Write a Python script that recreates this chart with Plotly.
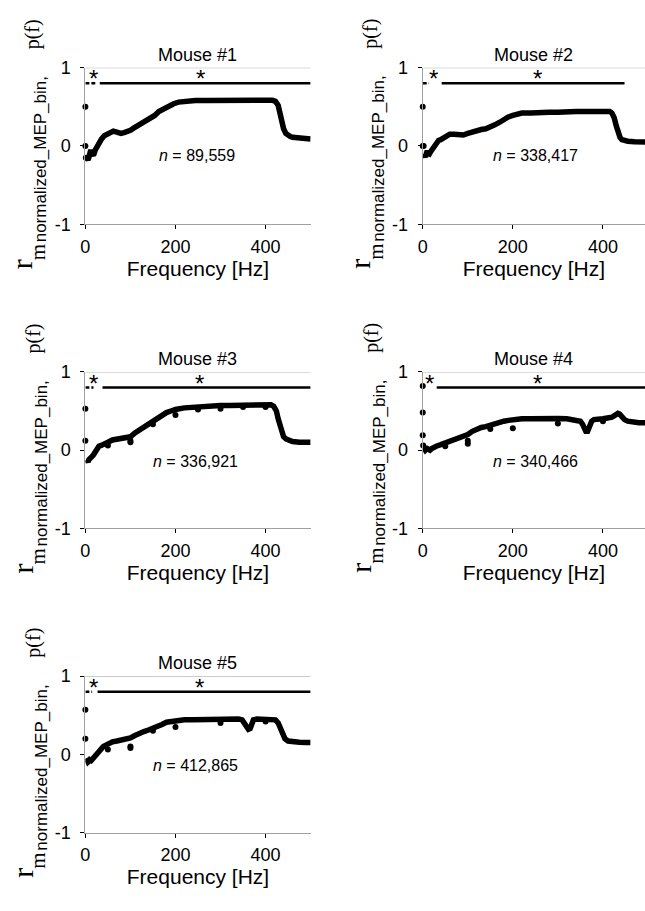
import plotly.graph_objects as go

W, H = 645, 911

# ---- spectral correlation curves (frequency in Hz, correlation r) ----
m1_freq = [2, 4, 6, 8, 10, 12, 15, 18, 22, 26, 31, 36, 42, 50, 56, 62, 68, 74, 79, 86, 93, 100, 108, 117, 126, 136, 145, 154, 163, 174, 185, 196, 207, 220, 244, 270, 300, 330, 360, 390, 415, 422, 428, 432, 436, 440, 445, 450, 455, 460, 470, 480, 490, 500]
m1_r = [-0.14, -0.17, -0.18, -0.14, -0.06, -0.05, -0.1, -0.12, -0.05, 0.0, 0.05, 0.09, 0.13, 0.16, 0.18, 0.19, 0.18, 0.17, 0.16, 0.17, 0.18, 0.2, 0.23, 0.26, 0.28, 0.31, 0.35, 0.39, 0.44, 0.48, 0.52, 0.54, 0.56, 0.57, 0.58, 0.58, 0.585, 0.585, 0.585, 0.585, 0.585, 0.57, 0.52, 0.42, 0.3, 0.22, 0.16, 0.13, 0.12, 0.11, 0.105, 0.1, 0.095, 0.09]
m1_pts_freq = [0, 0, 1]
m1_pts_r = [0.5, 0.0, -0.15]

m2_freq = [2, 4, 6, 8, 10, 12, 15, 18, 22, 26, 30, 35, 40, 50, 60, 70, 80, 90, 100, 110, 120, 130, 140, 150, 160, 170, 180, 190, 200, 210, 220, 240, 260, 280, 300, 320, 340, 360, 380, 400, 415, 420, 425, 430, 434, 438, 442, 448, 455, 470, 485, 500]
m2_r = [-0.1, -0.13, -0.14, -0.1, -0.06, -0.09, -0.1, -0.07, -0.03, 0.01, 0.04, 0.07, 0.08, 0.12, 0.15, 0.15, 0.14, 0.14, 0.16, 0.18, 0.2, 0.21, 0.22, 0.24, 0.27, 0.3, 0.34, 0.37, 0.39, 0.41, 0.42, 0.42, 0.43, 0.43, 0.43, 0.44, 0.44, 0.44, 0.44, 0.44, 0.44, 0.42, 0.36, 0.25, 0.16, 0.11, 0.08, 0.065, 0.06, 0.055, 0.05, 0.05]
m2_pts_freq = [0, 0, 2]
m2_pts_r = [0.5, 0.0, 0.0]

m3_freq = [2, 4, 6, 8, 10, 12, 15, 18, 22, 26, 30, 35, 40, 50, 60, 70, 80, 90, 100, 110, 120, 130, 140, 150, 160, 170, 180, 190, 200, 220, 240, 260, 280, 300, 320, 340, 360, 380, 400, 412, 418, 424, 428, 432, 436, 440, 446, 452, 460, 475, 490, 500]
m3_r = [-0.12, -0.14, -0.15, -0.12, -0.1, -0.09, -0.08, -0.06, -0.02, 0.02, 0.05, 0.06, 0.08, 0.1, 0.13, 0.14, 0.14, 0.15, 0.17, 0.22, 0.26, 0.29, 0.32, 0.36, 0.4, 0.44, 0.48, 0.5, 0.52, 0.54, 0.55, 0.56, 0.565, 0.57, 0.57, 0.575, 0.575, 0.58, 0.58, 0.58, 0.56, 0.5, 0.4, 0.3, 0.22, 0.17, 0.14, 0.12, 0.11, 0.1, 0.1, 0.1]
m3_pts_freq = [0, 0, 50, 100, 100, 150, 200, 250, 300, 350, 400]
m3_pts_r = [0.53, 0.12, 0.06, 0.1, 0.12, 0.33, 0.45, 0.52, 0.53, 0.55, 0.55]

m4_freq = [2, 4, 6, 8, 10, 13, 16, 20, 25, 30, 40, 50, 60, 70, 80, 90, 100, 110, 120, 130, 140, 150, 160, 170, 180, 190, 200, 220, 240, 260, 280, 300, 320, 340, 350, 355, 359, 362, 366, 370, 375, 380, 390, 400, 410, 420, 428, 433, 437, 442, 448, 455, 465, 480, 500]
m4_r = [0.04, 0.02, 0.0, 0.01, 0.02, 0.0, 0.0, 0.02, 0.04, 0.05, 0.07, 0.09, 0.11, 0.14, 0.16, 0.18, 0.2, 0.24, 0.27, 0.29, 0.3, 0.32, 0.34, 0.36, 0.37, 0.38, 0.39, 0.4, 0.4, 0.405, 0.405, 0.405, 0.4, 0.39, 0.37, 0.33, 0.27, 0.24, 0.24, 0.3, 0.37, 0.39, 0.39, 0.4, 0.41, 0.42, 0.45, 0.47, 0.46, 0.42, 0.39, 0.37, 0.36, 0.35, 0.35]
m4_pts_freq = [0, 0, 0, 1, 50, 100, 100, 150, 200, 300, 400]
m4_pts_r = [0.82, 0.48, 0.19, 0.06, 0.05, 0.12, 0.08, 0.27, 0.28, 0.34, 0.37]

m5_freq = [2, 4, 6, 8, 10, 13, 16, 20, 25, 30, 35, 40, 50, 60, 70, 80, 90, 100, 110, 120, 130, 140, 150, 160, 170, 180, 190, 200, 220, 240, 260, 280, 300, 320, 340, 348, 354, 358, 362, 366, 369, 373, 380, 400, 415, 422, 428, 433, 438, 443, 450, 460, 475, 490, 500]
m5_r = [-0.05, -0.09, -0.1, -0.09, -0.07, -0.08, -0.06, -0.02, 0.02, 0.05, 0.08, 0.1, 0.13, 0.16, 0.17, 0.18, 0.19, 0.21, 0.24, 0.27, 0.29, 0.31, 0.33, 0.36, 0.38, 0.41, 0.42, 0.43, 0.44, 0.44, 0.445, 0.45, 0.45, 0.45, 0.45, 0.44, 0.4, 0.35, 0.32, 0.33, 0.38, 0.44, 0.45, 0.45, 0.45, 0.44, 0.4, 0.32, 0.25, 0.2, 0.17, 0.16, 0.155, 0.15, 0.15]
m5_pts_freq = [0, 0, 50, 100, 100, 150, 200, 300, 400]
m5_pts_r = [0.57, 0.2, 0.06, 0.1, 0.08, 0.3, 0.35, 0.4, 0.42]

# ---- panel labels, sample counts, significance ranges ----
mouse_titles = ["Mouse #1", "Mouse #2", "Mouse #3", "Mouse #4", "Mouse #5"]
sample_counts = ["89,559", "338,417", "336,921", "340,466", "412,865"]
sig_short = [(0, 22), (0, 14), (0, 18), None, (0, 15)]
sig_long = [(32, 500), (42, 448), (38, 500), (31, 500), (27, 500)]
star_freqs = [(18, 255), (23, 254), (18, 254), (14, 254), (18, 254)]
count_pos = [(247, -0.12), (250, -0.12), (244, -0.146), (250, -0.146), (244, -0.14)]
SIG_LEVEL = 0.8

curves = [(m1_freq, m1_r), (m2_freq, m2_r), (m3_freq, m3_r), (m4_freq, m4_r), (m5_freq, m5_r)]
points = [(m1_pts_freq, m1_pts_r), (m2_pts_freq, m2_pts_r), (m3_pts_freq, m3_pts_r),
          (m4_pts_freq, m4_pts_r), (m5_pts_freq, m5_pts_r)]

# ---- layout geometry (pixels) ----
cols = [(81, 308), (421, 645)]
rows = [(59, 219), (370, 530), (681, 841)]
px_per_hz = (cols[0][1] - cols[0][0]) / 500.0
grid = [(0, 0), (0, 1), (1, 0), (1, 1), (2, 0)]

SANS = "Liberation Sans, Arial, sans-serif"
SERIF = "Liberation Serif, Times New Roman, serif"
AXIS_GREY = "#a0a0a0"

fig = go.Figure()
layout = dict(
    width=W, height=H, margin=dict(l=0, r=0, t=0, b=0),
    paper_bgcolor="white", plot_bgcolor="white", showlegend=False,
    font=dict(family=SANS, color="black"),
)
annotations = []
shapes = []

for i, (r_idx, c_idx) in enumerate(grid):
    k = i + 1
    xs = "" if k == 1 else str(k)
    x0, x1 = cols[c_idx]
    y0, y1 = rows[r_idx]
    xmax = (x1 - x0) / px_per_hz

    layout["xaxis" + xs] = dict(
        domain=[x0 / W, x1 / W], range=[0, xmax], anchor="y" + xs,
        tickvals=[0, 200, 400], ticks="outside", ticklen=4, tickcolor="black",
        showline=True, linecolor=AXIS_GREY, linewidth=1,
        showgrid=False, zeroline=False, tickfont=dict(size=18, family=SANS),
        ticklabelstandoff=2,
        title=dict(text="Frequency [Hz]", font=dict(size=21, family=SANS), standoff=4),
    )
    layout["yaxis" + xs] = dict(
        domain=[1 - y1 / H, 1 - y0 / H], range=[-1, 1], anchor="x" + xs,
        tickvals=[-1, 0, 1], ticktext=["-1", "0", "1"], ticks="outside",
        ticklen=4, tickcolor="black", showline=True, linecolor=AXIS_GREY,
        linewidth=1, showgrid=False, zeroline=False,
        tickfont=dict(size=18, family=SANS), ticklabelstandoff=6,
    )

    # top border at r = 1
    shapes.append(dict(type="line", xref=f"x{xs} domain", yref=f"y{xs}",
                       x0=0, x1=1, y0=1, y1=1, line=dict(color=AXIS_GREY, width=1)))

    # significance bars
    if sig_short[i] is not None:
        a, b = sig_short[i]
        fig.add_trace(go.Scatter(x=[a, b], y=[SIG_LEVEL, SIG_LEVEL], mode="lines",
                                 line=dict(color="black", width=2.5, dash="4px,2px"),
                                 xaxis="x" + xs, yaxis="y" + xs, cliponaxis=False,
                                 hoverinfo="skip"))
    a, b = sig_long[i]
    fig.add_trace(go.Scatter(x=[a, b], y=[SIG_LEVEL, SIG_LEVEL], mode="lines",
                             line=dict(color="black", width=2.5),
                             xaxis="x" + xs, yaxis="y" + xs, hoverinfo="skip"))
    for sf in star_freqs[i]:
        annotations.append(dict(text="*", x=sf, y=SIG_LEVEL, xref="x" + xs, yref="y" + xs,
                                showarrow=False, yanchor="bottom", yshift=-11,
                                font=dict(size=24, family=SANS, color="black")))

    # correlation spectrum
    f, r = curves[i]
    fig.add_trace(go.Scatter(x=f, y=r, mode="lines", line=dict(color="black", width=5.5),
                             xaxis="x" + xs, yaxis="y" + xs, cliponaxis=False))
    pf, pr = points[i]
    fig.add_trace(go.Scatter(x=pf, y=pr, mode="markers",
                             marker=dict(color="black", size=6),
                             xaxis="x" + xs, yaxis="y" + xs, cliponaxis=False))

    # panel title
    annotations.append(dict(text=mouse_titles[i], x=0.5, y=1, xref=f"x{xs} domain",
                            yref=f"y{xs} domain", showarrow=False, yanchor="middle",
                            yshift=13, font=dict(size=18, family=SANS)))
    # sample count
    cx, cy = count_pos[i]
    annotations.append(dict(text=f"<i>n</i> = {sample_counts[i]}", x=cx, y=cy,
                            xref="x" + xs, yref="y" + xs, showarrow=False,
                            font=dict(size=16, family=SANS)))

    # y-axis label: r with subscript m_normalized_MEP_bin, p(f)
    ylabel_parts = [
        ("r", SERIF, 30, -63, -118),
        ("m", SERIF, 21, -47, -106),
        ("normalized_MEP_bin,", SANS, 17, -44, -13),
        ("p(f)", SERIF, 20, -52, 112),
    ]
    for txt, fam, size, dx, dy in ylabel_parts:
        annotations.append(dict(text=txt, x=0, y=0.5, xref=f"x{xs} domain",
                                yref=f"y{xs} domain", showarrow=False, textangle=-90,
                                xanchor="center", yanchor="middle", xshift=dx, yshift=dy,
                                font=dict(size=size, family=fam, color="black")))

layout["annotations"] = annotations
layout["shapes"] = shapes
fig.update_layout(**layout)
fig.write_html("out.html")
